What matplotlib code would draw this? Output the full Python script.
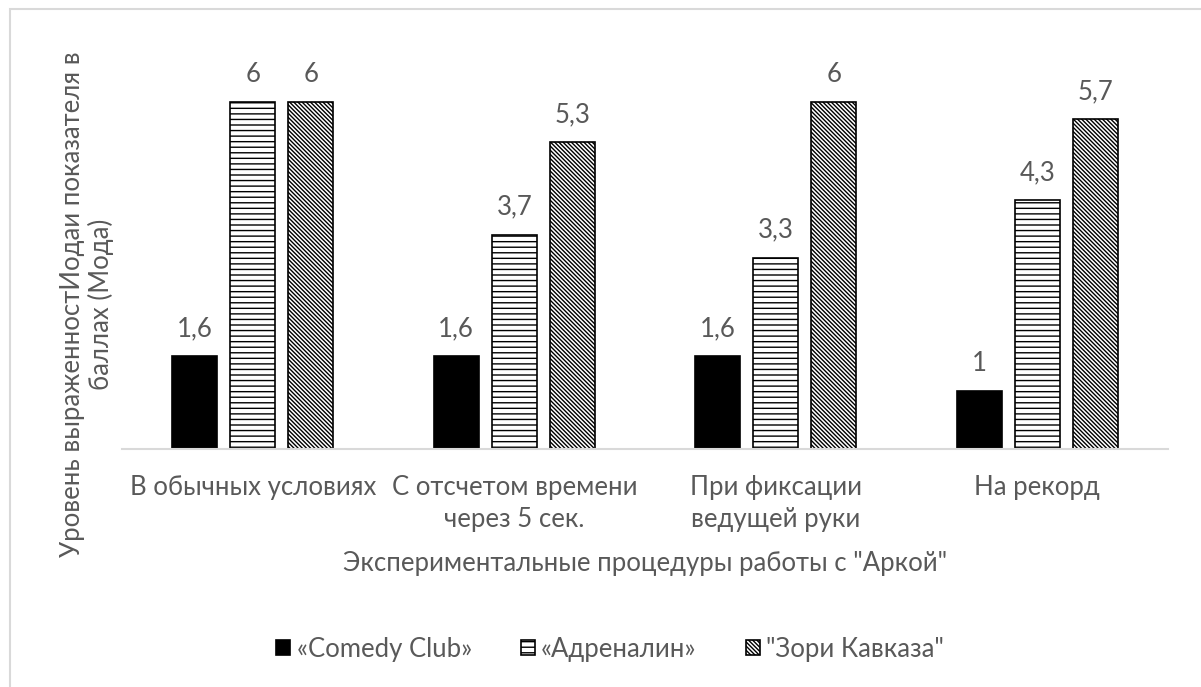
import numpy as np
import matplotlib.pyplot as plt
from matplotlib.patches import Rectangle

plt.rcParams['font.family'] = ['Lato', 'DejaVu Sans']
plt.rcParams['hatch.linewidth'] = 1.0

categories = ['В обычных условиях', 'С отсчетом времени\nчерез 5 сек.',
              'При фиксации\nведущей руки', 'На рекорд']
series_names = ['«Comedy Club»', '«Адреналин»', '"Зори Кавказа"']
comedy = [1.6, 1.6, 1.6, 1.0]
adrenalin = [6.0, 3.7, 3.3, 4.3]
zori = [6.0, 5.3, 6.0, 5.7]
labels = [['1,6', '1,6', '1,6', '1'],
          ['6', '3,7', '3,3', '4,3'],
          ['6', '5,3', '6', '5,7']]

gray = '#595959'
fs = 18.5

fig = plt.figure(figsize=(12.01, 6.87), dpi=100)
ax = fig.add_axes([122 / 1201, 1 - 449 / 687, (1168 - 122) / 1201, (449 - 44) / 687])

x = np.arange(len(categories))
w = 0.172
step = 0.222
styles = [dict(color='black', hatch=None),
          dict(color='white', hatch='---'),
          dict(color='white', hatch='\\' * 8)]

handles = []
for i, vals in enumerate([comedy, adrenalin, zori]):
    st = styles[i]
    bars = ax.bar(x + (i - 1) * step, vals, w, color=st['color'], edgecolor='black',
                  hatch=st['hatch'], linewidth=1.2, label=series_names[i])
    handles.append(bars)
    for b, t in zip(bars, labels[i]):
        ax.annotate(t, (b.get_x() + b.get_width() / 2, b.get_height()),
                    xytext=(0, 11), textcoords='offset points', ha='center', va='bottom',
                    fontsize=fs, color=gray)

ax.set_xlim(-0.5, 3.5)
ax.set_ylim(0, 7)
ax.set_yticks([])
ax.set_xticks(x)
ax.set_xticklabels(categories, fontsize=fs, color=gray, linespacing=1.35)
ax.tick_params(axis='x', length=0, pad=19)
for s in ['top', 'right', 'left']:
    ax.spines[s].set_visible(False)
ax.spines['bottom'].set_color('#d9d9d9')
ax.spines['bottom'].set_linewidth(1.5)

fig.text(645 / 1201, 1 - 563 / 687, 'Экспериментальные процедуры работы с "Аркой"',
         ha='center', va='center', fontsize=fs, color=gray)
fig.text(87 / 1201, 1 - 304 / 687, 'Уровень выраженностИодаи показателя в\nбаллах (Мода)',
         ha='center', va='center', rotation=90, multialignment='center',
         fontsize=fs, color=gray, linespacing=1.1)

fig.legend(handles=handles, loc='center', bbox_to_anchor=(610 / 1201, 1 - 649 / 687),
           ncol=3, frameon=False, fontsize=fs, labelcolor=gray,
           handlelength=0.55, handleheight=0.55, handletextpad=0.25, columnspacing=1.9)

fig.patches.append(Rectangle((10 / 1201, -0.1), 1.2, 1 - 9 / 687 + 0.1,
                             transform=fig.transFigure, fill=False,
                             edgecolor='#d9d9d9', linewidth=1.5))

fig.savefig('out.png', dpi=100)
